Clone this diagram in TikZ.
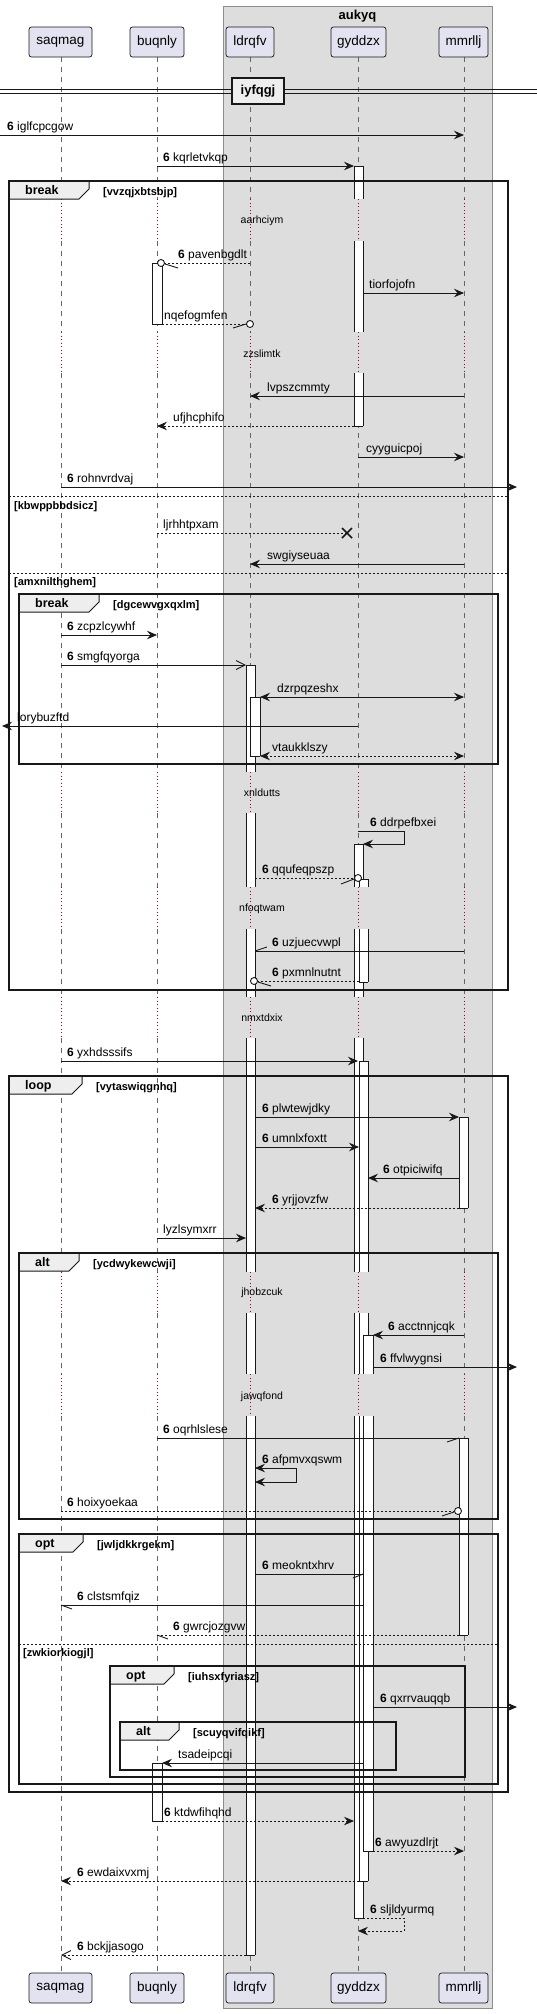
\documentclass[tikz,border=0pt]{standalone}
\usepackage{fontspec}
\setmainfont{Liberation Sans}
\usetikzlibrary{arrows.meta}
\definecolor{partfill}{HTML}{E2E2F0}
\definecolor{grpfill}{HTML}{DDDDDD}
\definecolor{grpline}{HTML}{8C8C8C}
\definecolor{linec}{HTML}{181818}
\definecolor{delayc}{HTML}{A80036}
\definecolor{tabfill}{HTML}{EEEEEE}
\definecolor{lifec}{HTML}{666666}
\tikzset{
 part/.style={draw=linec, fill=partfill, rounded corners=2.5pt, line width=0.7pt, minimum height=30pt, inner sep=0pt, font=\fontsize{13.5}{16}\selectfont},
 grp/.style={draw=grpline, fill=grpfill, line width=0.8pt},
 life/.style={draw=lifec, line width=0.6pt, dash pattern=on 5pt off 5pt},
 dly/.style={draw=delayc, line width=0.7pt, dash pattern=on 1pt off 2.5pt},
 actl/.style={draw=linec, line width=0.9pt},
 msg/.style={draw=linec, line width=0.9pt},
 dsh/.style={dash pattern=on 2pt off 2pt},
 head/.style={-{Stealth[length=10pt,width=8.5pt,inset=3.5pt]}},
 dhead/.style={{Stealth[length=10pt,width=8.5pt,inset=3.5pt]}-{Stealth[length=10pt,width=8.5pt,inset=3.5pt]}},
 ohead/.style={-{Straight Barb[length=9pt,width=9pt]}},
 lbl/.style={anchor=base west, inner sep=0pt, font=\fontsize{12}{14}\selectfont},
 dtxt/.style={inner sep=0pt, font=\fontsize{10.5}{12}\selectfont},
 frm/.style={draw=linec, line width=1.5pt},
 tab/.style={draw=linec, fill=tabfill, line width=1pt},
 ftitle/.style={anchor=base west, inner sep=0pt, font=\bfseries\fontsize{12.5}{14}\selectfont},
 fcond/.style={anchor=base west, inner sep=0pt, font=\bfseries\fontsize{11}{13}\selectfont},
 sepl/.style={draw=linec, line width=0.8pt, dash pattern=on 2pt off 2pt},
 circ/.style={circle, draw=linec, fill=white, line width=0.9pt, minimum size=7pt, inner sep=0pt},
 xmark/.style={draw=linec, line width=1.6pt},
}
\newcommand\AS[4]{\fill[white] (#1,#3) rectangle (#2,#4); \draw[actl] (#1,#3) -- (#1,#4) (#2,#3) -- (#2,#4);}
\newcommand\AC[3]{\draw[actl] (#1,#3) -- (#2,#3);}
\newcommand\Msg[5]{\coordinate (#1a) at (#2,#4); \coordinate (#1b) at (#3,#4); \draw[#5] (#1a) -- (#1b);}
\newcommand\Lb[4]{\node[lbl] (#1) at (#2,#3) {#4};}
\newcommand\Frame[8]{%
 \draw[tab] (#2,#3) -- ++(#6,0) -- ++(0,8) -- ++(-10,10) -- (#2,#3+18) -- cycle;
 \draw[frm] (#2,#3) rectangle (#4,#5);
 \node[ftitle] (#1t) at (#2+16,#3+13.5) {#7};
 \node[fcond] (#1c) at (#2+#6+14,#3+14) {#8};}
\begin{document}
\begin{tikzpicture}[x=1pt,y=-1pt]
\useasboundingbox (0,0) rectangle (537,2014);
% group box
\draw[grp] (223,6) rectangle (492,2008);
\node[font=\bfseries\fontsize{13}{15}\selectfont, inner sep=0pt] (aukyq) at (357.5,16) {aukyq};
% lifelines
\foreach \x in {61,157,250,358,464}{
 \foreach \a/\b in {57/199,241/332,373/772,813/887,929/997,1038/1272,1313/1374,1416/1973}{\draw[life] (\x,\a) -- (\x,\b);}
 \foreach \a/\b in {199/241,332/373,772/813,887/929,997/1038,1272/1313,1374/1416}{\draw[dly] (\x,\a) -- (\x,\b);}
}
% delay texts
\node[dtxt] (d1) at (262,221) {aarhciym};
\node[dtxt] (d2) at (262,354) {zzslimtk};
\node[dtxt] (d3) at (262,793) {xnldutts};
\node[dtxt] (d4) at (262,909) {nfoqtwam};
\node[dtxt] (d5) at (262,1018) {nmxtdxix};
\node[dtxt] (d6) at (262,1293) {jhobzcuk};
\node[dtxt] (d7) at (262,1397) {jawqfond};
% activations
\foreach \a/\b in {665/772,813/887,929/997,1038/1272,1313/1374,1416/1955}{\AS{246}{255}{\a}{\b}}
\AC{246}{255}{665}\AC{246}{255}{1955}
\AS{250}{260}{697}{756}\AC{250}{260}{697}\AC{250}{260}{756}
\foreach \a/\b in {166/199,241/332,373/426,844/887,929/997,1038/1272,1313/1374,1416/1918}{\AS{354}{363}{\a}{\b}}
\AC{354}{363}{166}\AC{354}{363}{426}\AC{354}{363}{844}\AC{354}{363}{1918}
\foreach \a/\b in {879/887,929/982,1061/1272,1313/1374,1416/1881}{\AS{359}{368}{\a}{\b}}
\AC{359}{368}{879}\AC{359}{368}{982}\AC{359}{368}{1061}\AC{359}{368}{1881}
\foreach \a/\b in {1335/1374,1416/1851}{\AS{363}{373}{\a}{\b}}
\AC{363}{373}{1335}\AC{363}{373}{1851}
\AS{152}{162}{263}{324}\AC{152}{162}{263}\AC{152}{162}{324}
\AS{152}{162}{1763}{1821}\AC{152}{162}{1763}\AC{152}{162}{1821}
\AS{459}{468}{1117}{1208}\AC{459}{468}{1117}\AC{459}{468}{1208}
\AS{459}{468}{1438}{1635}\AC{459}{468}{1438}\AC{459}{468}{1635}
% frames
\Frame{f1}{9}{181}{508}{990}{80}{break}{[vvzqjxbtsbjp]}
\draw[sepl] (9,496) -- (508,496);
\node[fcond] (s1) at (14,509) {[kbwppbbdsicz]};
\draw[sepl] (9,573) -- (508,573);
\node[fcond] (s2) at (14,585) {[amxnilthghem]};
\Frame{f2}{19}{594}{498}{764}{80}{break}{[dgcewvgxqxlm]}
\Frame{f3}{9}{1076}{508}{1792}{73}{loop}{[vytaswiqgnhq]}
\Frame{f4}{19}{1253}{498}{1519}{60}{alt}{[ycdwykewcwji]}
\Frame{f5}{19}{1534}{498}{1784}{64}{opt}{[jwljdkkrgekm]}
\draw[sepl] (19,1644) -- (498,1644);
\node[fcond] (s3) at (23,1656) {[zwkiorkiogjl]};
\Frame{f6}{110}{1666}{465}{1777}{64}{opt}{[iuhsxfyriasz]}
\Frame{f7}{120}{1722}{396}{1770}{59}{alt}{[scuyqvifqikf]}
% messages
\Msg{m1}{0}{464}{135}{msg,head}
\Lb{l1}{7}{130}{\textbf{6} iglfcpcgow}
\Msg{m2}{157}{354}{166}{msg,head}
\Lb{l2}{163}{161}{\textbf{6} kqrletvkqp}
\coordinate (m3a) at (250,263); \node[circ] (m3c) at (161,263) {};
\draw[msg,dsh] (m3a) -- (m3c); \draw[msg] (m3c) ++(4,1) -- ++(13,4);
\Lb{l3}{178}{258}{\textbf{6} pavenbgdlt}
\Msg{m4}{363}{464}{293}{msg,head}
\Lb{l4}{369}{288}{tiorfojofn}
\coordinate (m5a) at (162,324); \node[circ] (m5c) at (250,324) {};
\draw[msg,dsh] (m5a) -- (m5c); \draw[msg] (m5c) ++(-4,0) -- ++(-13,4);
\Lb{l5}{164}{319}{nqefogmfen}
\Msg{m6}{464}{250}{396}{msg,head}
\Lb{l6}{267}{391}{lvpszcmmty}
\Msg{m7}{354}{157}{426}{msg,dsh,head}
\Lb{l7}{173}{421}{ufjhcphifo}
\Msg{m8}{358}{464}{457}{msg,head}
\Lb{l8}{366}{452}{cyyguicpoj}
\Msg{m9}{61}{517}{487}{msg,head}
\Lb{l9}{67}{482}{\textbf{6} rohnvrdvaj}
\Msg{m10}{157}{347}{533}{msg,dsh}
\draw[xmark] (m10b) ++(-5,-5) -- ++(10,10) (m10b) ++(-5,5) -- ++(10,-10);
\Lb{l10}{163}{528}{ljrhhtpxam}
\Msg{m11}{464}{250}{564}{msg,head}
\Lb{l11}{267}{559}{swgiyseuaa}
\Msg{m12}{61}{157}{635}{msg,head}
\Lb{l12}{67}{630}{\textbf{6} zcpzlcywhf}
\Msg{m13}{61}{246}{665}{msg,ohead}
\Lb{l13}{67}{660}{\textbf{6} smgfqyorga}
\Msg{m14}{260}{464}{697}{msg,dhead}
\Lb{l14}{277}{692}{dzrpqzeshx}
\Msg{m15}{358}{2}{726}{msg,head}
\Lb{l15}{17}{721}{lorybuzftd}
\Msg{m16}{260}{464}{756}{msg,dsh,dhead}
\Lb{l16}{272}{751}{vtaukklszy}
\coordinate (m17a) at (358,831); \coordinate (m17b) at (363,844);
\draw[msg,head] (m17a) -- ++(46,0) |- (m17b);
\Lb{l17}{370}{826}{\textbf{6} ddrpefbxei}
\coordinate (m18a) at (255,878); \node[circ] (m18c) at (358,878) {};
\draw[msg,dsh] (m18a) -- (m18c); \draw[msg] (m18c) ++(-4,1) -- ++(-13,5);
\Lb{l18}{262}{873}{\textbf{6} qqufeqpszp}
\Msg{m19}{464}{255}{951}{msg}
\draw[msg] (m19b) -- ++(12,-4);
\Lb{l19}{272}{946}{\textbf{6} uzjuecvwpl}
\coordinate (m20a) at (359,981); \node[circ] (m20c) at (254,981) {};
\draw[msg,dsh] (m20a) -- (m20c); \draw[msg] (m20c) ++(4,1) -- ++(13,4);
\Lb{l20}{272}{976}{\textbf{6} pxmnlnutnt}
\Msg{m21}{61}{358}{1061}{msg,head}
\Lb{l21}{67}{1056}{\textbf{6} yxhdsssifs}
\Msg{m22}{255}{459}{1117}{msg,head}
\Lb{l22}{262}{1112}{\textbf{6} plwtewjdky}
\Msg{m23}{255}{359}{1147}{msg,head}
\Lb{l23}{262}{1142}{\textbf{6} umnlxfoxtt}
\Msg{m24}{459}{368}{1178}{msg,head}
\Lb{l24}{383}{1173}{\textbf{6} otpiciwifq}
\Msg{m25}{459}{255}{1208}{msg,dsh,head}
\Lb{l25}{272}{1203}{\textbf{6} yrjjovzfw}
\Msg{m26}{157}{246}{1238}{msg,head}
\Lb{l26}{163}{1233}{lyzlsymxrr}
\Msg{m27}{464}{373}{1335}{msg,head}
\Lb{l27}{388}{1330}{\textbf{6} acctnnjcqk}
\Msg{m28}{373}{517}{1367}{msg,head}
\Lb{l28}{380}{1362}{\textbf{6} ffvlwygnsi}
\Msg{m29}{157}{459}{1438}{msg}
\draw[msg] (m29b) -- ++(-12,4);
\Lb{l29}{163}{1433}{\textbf{6} oqrhlslese}
\coordinate (m30a) at (255,1468); \coordinate (m30b) at (255,1482);
\draw[msg,dhead] (m30a) -- ++(41,0) |- (m30b);
\Lb{l30}{262}{1463}{\textbf{6} afpmvxqswm}
\coordinate (m31a) at (61,1511); \node[circ] (m31c) at (458,1511) {};
\draw[msg,dsh] (m31a) -- (m31c); \draw[msg] (m31c) ++(-4,1) -- ++(-12,4);
\Lb{l31}{67}{1506}{\textbf{6} hoixyoekaa}
\Msg{m32}{255}{363}{1574}{msg}
\draw[msg] (m32b) -- ++(-10,4);
\Lb{l32}{262}{1569}{\textbf{6} meokntxhrv}
\Msg{m33}{363}{61}{1605}{msg}
\draw[msg] (m33b) -- ++(11,4);
\Lb{l33}{77}{1600}{\textbf{6} clstsmfqiz}
\Msg{m34}{459}{157}{1635}{msg,dsh}
\draw[msg] (m34b) -- ++(11,4);
\Lb{l34}{173}{1630}{\textbf{6} gwrcjozgvw}
\Msg{m35}{373}{517}{1707}{msg,head}
\Lb{l35}{380}{1702}{\textbf{6} qxrrvauqqb}
\Msg{m36}{363}{162}{1763}{msg,head}
\Lb{l36}{178}{1758}{tsadeipcqi}
\Msg{m37}{162}{354}{1821}{msg,dsh,head}
\Lb{l37}{164}{1816}{\textbf{6} ktdwfihqhd}
\Msg{m38}{373}{464}{1851}{msg,dsh,head}
\Lb{l38}{375}{1846}{\textbf{6} awyuzdlrjt}
\Msg{m39}{359}{61}{1881}{msg,dsh,head}
\Lb{l39}{77}{1876}{\textbf{6} ewdaixvxmj}
\coordinate (m40a) at (363,1918); \coordinate (m40b) at (358,1931);
\draw[msg,dsh,head] (m40a) -- ++(41,0) |- (m40b);
\Lb{l40}{370}{1913}{\textbf{6} sljldyurmq}
\Msg{m41}{246}{61}{1955}{msg,dsh,ohead}
\Lb{l41}{77}{1950}{\textbf{6} bckjjasogo}
% participants
\node[part, minimum width=63pt] (saqmagT) at (60.5,42) {saqmag};
\node[part, minimum width=54pt] (buqnlyT) at (157,42) {buqnly};
\node[part, minimum width=48pt] (ldrqfvT) at (250,42) {ldrqfv};
\node[part, minimum width=55pt] (gyddzxT) at (358.5,42) {gyddzx};
\node[part, minimum width=49pt] (mmrlljT) at (463.5,42) {mmrllj};
\node[part, minimum width=63pt] (saqmagB) at (60.5,1988) {saqmag};
\node[part, minimum width=54pt] (buqnlyB) at (157,1988) {buqnly};
\node[part, minimum width=48pt] (ldrqfvB) at (250,1988) {ldrqfv};
\node[part, minimum width=55pt] (gyddzxB) at (358.5,1988) {gyddzx};
\node[part, minimum width=49pt] (mmrlljB) at (463.5,1988) {mmrllj};
% divider
\draw[draw=linec, line width=0.9pt] (0,89.3) -- (537,89.3) (0,93.3) -- (537,93.3);
\node[draw=linec, fill=tabfill, line width=1.6pt, minimum width=52pt, minimum height=26pt, inner sep=0pt, font=\bfseries\fontsize{13}{15}\selectfont] (div) at (258,91) {iyfqgj};
\end{tikzpicture}
\end{document}
